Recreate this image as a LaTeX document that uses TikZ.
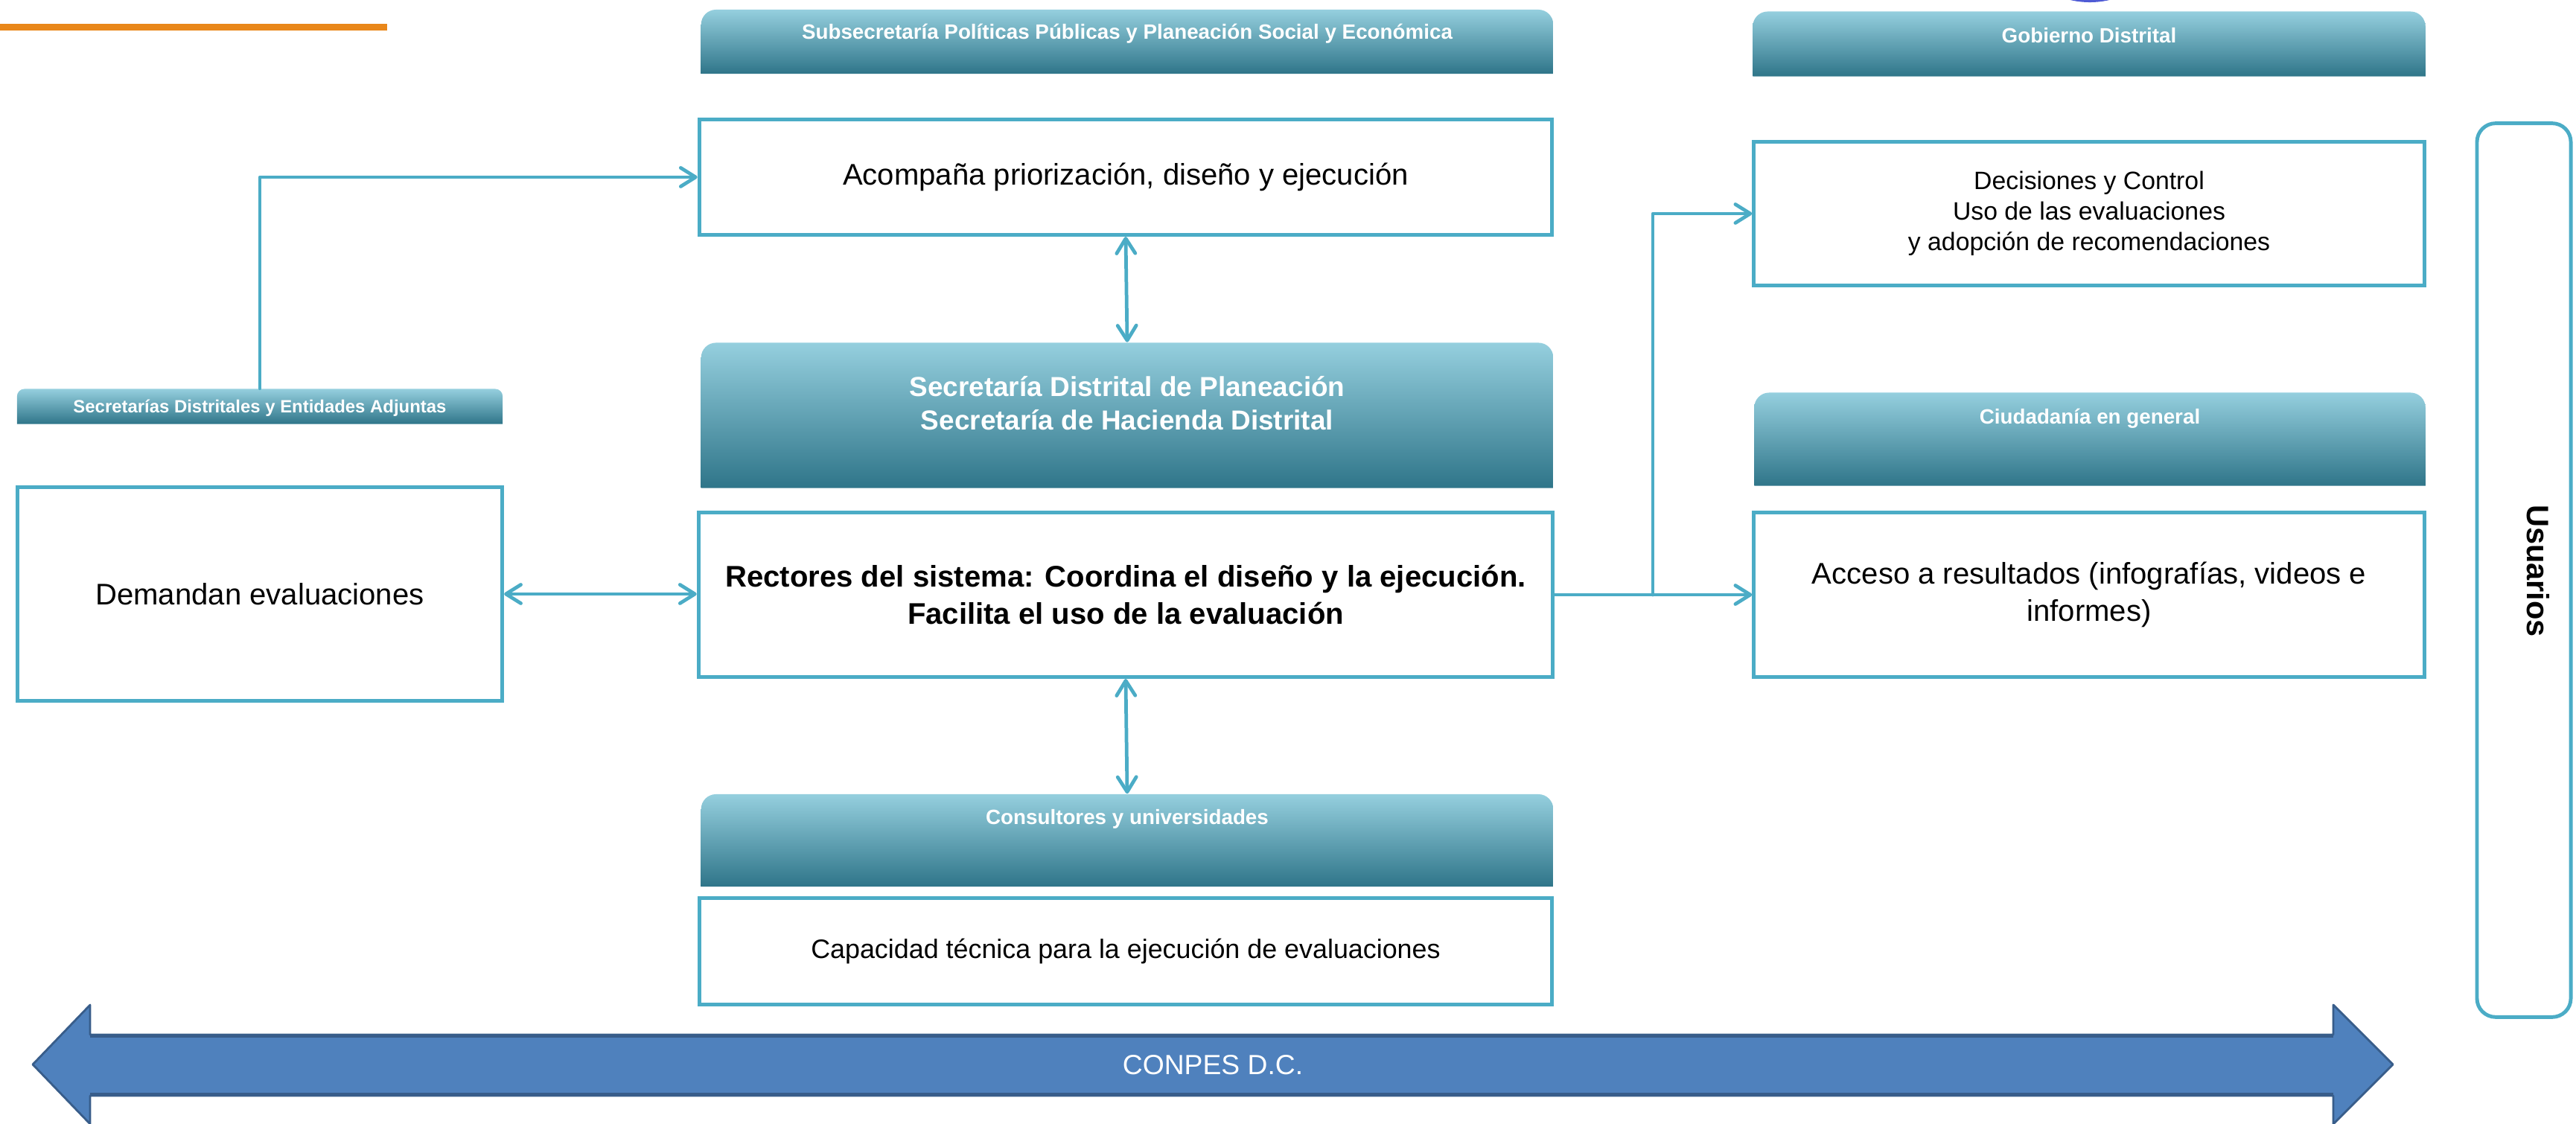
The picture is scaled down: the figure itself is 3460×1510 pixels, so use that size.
\documentclass[tikz,border=0pt]{standalone}
\usepackage{fontspec}
\setmainfont{Liberation Sans}
\usepackage{tikz}
\usetikzlibrary{arrows.meta,positioning,calc}
\definecolor{boxblue}{HTML}{4BACC6}
\definecolor{hdrtop}{HTML}{95CFDE}
\definecolor{hdrmid}{HTML}{4DADC7}
\definecolor{hdrbot}{HTML}{2F7589}
\definecolor{conpesfill}{HTML}{4F81BD}
\definecolor{conpesline}{HTML}{385D8A}
\definecolor{orangebar}{HTML}{E9871A}
\definecolor{dotblue}{HTML}{4F5BD5}

\begin{document}
\begin{tikzpicture}[x=0.01cm, y=-0.01cm,
      >={Straight Barb[length=2mm,width=2.5mm,round]},
      box/.style={draw=boxblue, line width=1.4pt, fill=white, inner sep=0pt,
        align=center, font=\fontsize{11.4}{14.2}\selectfont},
      hdr/.style={rectangle, inner sep=0pt, path picture={
        \shade[top color=hdrtop, middle color=hdrmid, bottom color=hdrbot]
          (path picture bounding box.south west)
          -- ([yshift=-#1]path picture bounding box.north west)
          arc[start angle=180, end angle=90, radius=#1]
          -- ([xshift=-#1]path picture bounding box.north east)
          arc[start angle=90, end angle=0, radius=#1]
          -- (path picture bounding box.south east) -- cycle;}},
      hdr/.default=2mm,
      hdrtxt/.style={text=white, align=center, font=\bfseries\fontsize{7.9}{9.5}\selectfont},
      conn/.style={draw=boxblue, line width=1.35pt, line cap=round, line join=round}]
  \useasboundingbox (0,0) rectangle (3460,1510);

  % top decorations
  \fill[orangebar] (0,32) rectangle (520,41);
  \fill[dotblue] (2807,-112) circle[radius=1.15cm];

  % centre column
  \node[hdr, minimum width=11.44cm, minimum height=0.86cm] (subhdr) at (1514,56) {};
  \node[hdrtxt] (subtxt) at (1514,45) {Subsecretaría Políticas Públicas y Planeación Social y Económica};
  \node[box, minimum width=11.45cm, minimum height=1.55cm] (acomp) at (1512,238) {Acompaña priorización, diseño y ejecución};

  \node[hdr, minimum width=11.44cm, minimum height=1.95cm] (sdphdr) at (1514,558) {};
  \node[hdrtxt, font=\bfseries\fontsize{10.5}{12.8}\selectfont] (sdptxt) at (1514,542)
    {Secretaría Distrital de Planeación\\Secretaría de Hacienda Distrital};
  \node[box, minimum width=11.47cm, minimum height=2.21cm, font=\bfseries\fontsize{11.4}{14.2}\selectfont] (rect) at (1512,799)
    {Rectores del sistema: Coordina el diseño y la ejecución.\\Facilita el uso de la evaluación};

  \node[hdr, minimum width=11.44cm, minimum height=1.24cm] (conshdr) at (1514,1129) {};
  \node[hdrtxt] (constxt) at (1514,1100) {Consultores y universidades};
  \node[box, minimum width=11.45cm, minimum height=1.43cm, font=\fontsize{10.2}{12.5}\selectfont] (capac) at (1512,1278)
    {Capacidad técnica para la ejecución de evaluaciones};

  % left column
  \node[hdr=1mm, minimum width=6.52cm, minimum height=0.47cm] (secdhdr) at (349,546) {};
  \node[hdrtxt, font=\bfseries\fontsize{6.8}{8}\selectfont] (secdtxt) at (349,548) {Secretarías Distritales y Entidades Adjuntas};
  \node[box, minimum width=6.51cm, minimum height=2.87cm] (dem) at (349,798) {Demandan evaluaciones};

  % right column
  \node[hdr, minimum width=9.03cm, minimum height=0.87cm] (gobhdr) at (2806,59) {};
  \node[hdrtxt] (gobtxt) at (2806,48) {Gobierno Distrital};
  \node[box, minimum width=9.0cm, minimum height=1.93cm, font=\fontsize{9.6}{11.7}\selectfont] (dec) at (2806,287)
    {Decisiones y Control\\Uso de las evaluaciones\\y adopción de recomendaciones};

  \node[hdr, minimum width=9.01cm, minimum height=1.25cm] (ciudhdr) at (2807,590) {};
  \node[hdrtxt] (ciudtxt) at (2807,562) {Ciudadanía en general};
  \node[box, minimum width=9.0cm, minimum height=2.21cm, font=\fontsize{11.4}{14}\selectfont] (acc) at (2806,799)
    {Acceso a resultados (infografías, videos e\\informes)};

  \node[draw=boxblue, line width=1.4pt, rounded corners=2.5mm, minimum width=1.26cm, minimum height=12.0cm] (usu) at (3390,766) {};
  \node[rotate=-90, font=\bfseries\fontsize{11.8}{14}\selectfont] (usutxt) at (3409,767) {Usuarios};

  % connectors
  \draw[conn, ->] (secdhdr.north) |- (acomp.west);
  \draw[conn, <->] (acomp.south) -- (sdphdr.north);
  \draw[conn, <->] (rect.south) -- (conshdr.north);
  \draw[conn, <->] (dem.east) -- (dem.east -| rect.west);
  \coordinate (split) at (2220,799);
  \draw[conn, ->] (rect.east) -- (acc.west);
  \draw[conn, ->] (split) |- (dec.west);

  % CONPES arrow
  \fill[conpesfill, draw=conpesline, line width=0.8pt, line join=round]
    (44,1430) -- (121,1350) -- (121,1390) -- (3134,1390) -- (3134,1350) -- (3214,1430)
    -- (3134,1510) -- (3134,1472) -- (121,1472) -- (121,1510) -- cycle;
  \draw[conpesline, line width=1.4pt] (121,1392) -- (3134,1392);
  \draw[conpesline, line width=1.4pt] (121,1470) -- (3134,1470);
  \node[text=white, font=\fontsize{10.6}{12}\selectfont] (conpes) at (1629,1431) {CONPES D.C.};
\end{tikzpicture}
\end{document}
